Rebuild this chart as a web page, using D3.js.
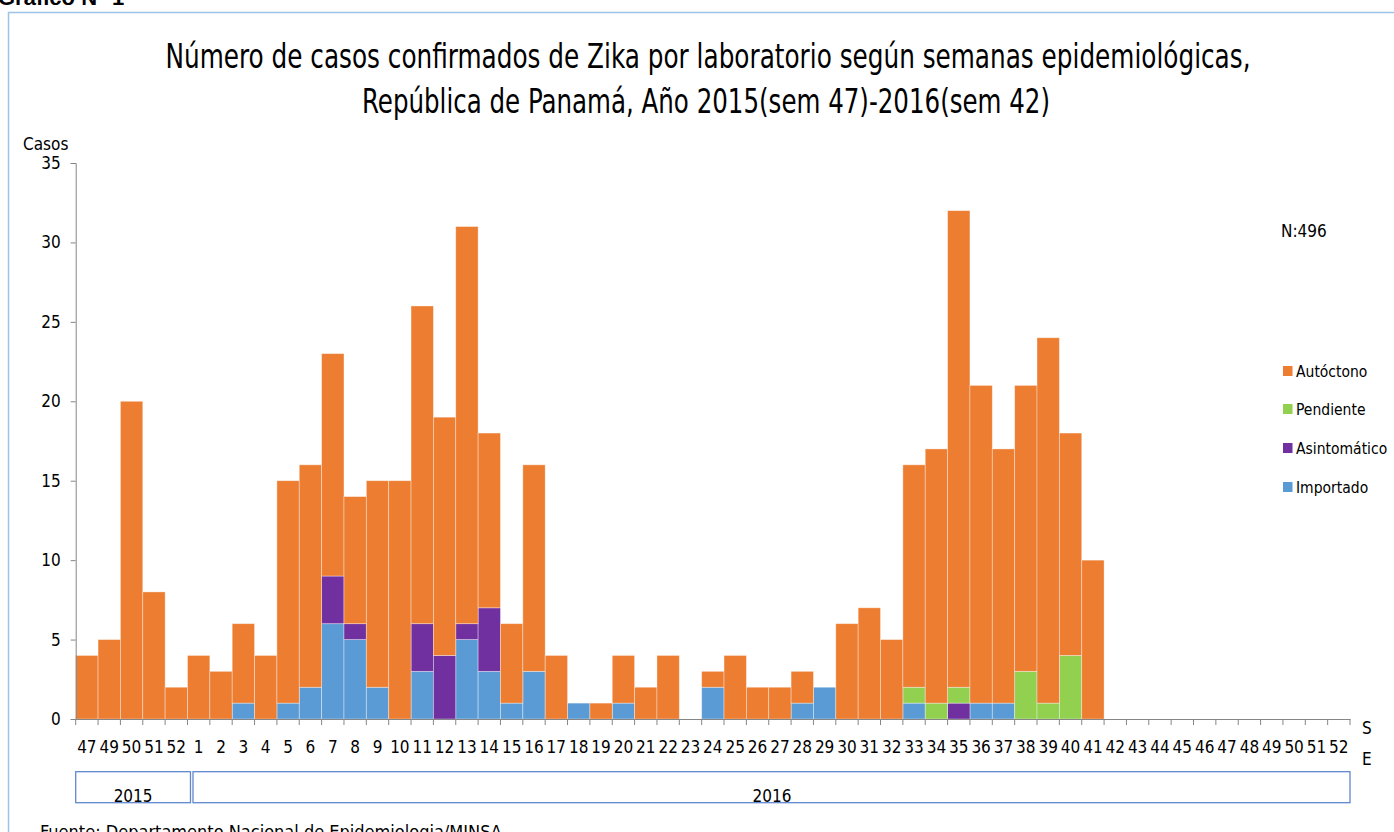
<!DOCTYPE html>
<html>
<head>
<meta charset="utf-8">
<script src="https://cdn.jsdelivr.net/npm/d3@7"></script>
<style>
  html, body { margin: 0; padding: 0; background: #fff; }
  svg { display: block; }
  text { font-family: "Liberation Sans Narrow", "DejaVu Sans Condensed", "Open Sans", sans-serif; fill: #000; }
</style>
</head>
<body>
<svg id="chart" width="1394" height="832"></svg>
<script>
// ---- Data ----
const weeks = ["47","49","50","51","52","1","2","3","4","5","6","7","8","9","10","11","12","13","14","15","16","17","18","19","20","21","22","23","24","25","26","27","28","29","30","31","32","33","34","35","36","37","38","39","40","41","42","43","44","45","46","47","48","49","50","51","52"];
const importado    = [0,0,0,0,0, 0,0,1,0,1,2,6,5,2,0, 3,0,5,3,1,3,0,1,0,1, 0,0,0,2,0,0,0,1,2,0, 0,0,1,0,0,1,1,0,0,0, 0,0,0,0,0,0,0,0,0,0,0,0];
const asintomatico = [0,0,0,0,0, 0,0,0,0,0,0,3,1,0,0, 3,4,1,4,0,0,0,0,0,0, 0,0,0,0,0,0,0,0,0,0, 0,0,0,0,1,0,0,0,0,0, 0,0,0,0,0,0,0,0,0,0,0,0];
const pendiente    = [0,0,0,0,0, 0,0,0,0,0,0,0,0,0,0, 0,0,0,0,0,0,0,0,0,0, 0,0,0,0,0,0,0,0,0,0, 0,0,1,1,1,0,0,3,1,4, 0,0,0,0,0,0,0,0,0,0,0,0];
const autoctono    = [4,5,20,8,2, 4,3,5,4,14,14,14,8,13,15, 20,15,25,11,5,13,4,0,1,3, 2,4,0,1,4,2,2,2,0,6, 7,5,14,16,30,20,16,18,23,14, 10,0,0,0,0,0,0,0,0,0,0,0];
const yTicks = [0,5,10,15,20,25,30,35];
const seriesNames = ["Importado","Asintomático","Pendiente","Autóctono"];
const seriesColors = ["#5B9BD5","#7030A0","#92D050","#ED7D31"];
const legendOrder = ["Autóctono","Pendiente","Asintomático","Importado"];
const years = [{label:"2015", from:0, to:4}, {label:"2016", from:5, to:56}];

// ---- Build table ----
const table = weeks.map((w,i) => ({
  idx: i,
  "Importado": importado[i],
  "Asintomático": asintomatico[i],
  "Pendiente": pendiente[i],
  "Autóctono": autoctono[i]
}));

const svg = d3.select("#chart");
const plotL = 75.7, plotR = 1350, plotT = 163, plotB = 719;

const x = d3.scaleBand().domain(d3.range(weeks.length)).range([plotL, plotR]).padding(0);
const y = d3.scaleLinear().domain([0,35]).range([plotB, plotT]);
const color = d3.scaleOrdinal().domain(seriesNames).range(seriesColors);

// outer border
svg.append("rect").attr("x",8.5).attr("y",12.5).attr("width",1400).attr("height",840)
  .attr("fill","none").attr("stroke","#9DC3E6").attr("stroke-width",1.5);

// cut-off heading
svg.append("text").attr("x",-2).attr("y",5).attr("font-size",22).attr("font-weight","bold")
  .style("font-family","'Liberation Sans', sans-serif").text("Gráfico N° 1");

// Title
svg.append("text").attr("x",708).attr("y",68).attr("text-anchor","middle").attr("font-size",34)
  .attr("textLength",1085).attr("lengthAdjust","spacingAndGlyphs")
  .text("Número de casos confirmados de Zika por laboratorio según semanas epidemiológicas,");
svg.append("text").attr("x",706).attr("y",113).attr("text-anchor","middle").attr("font-size",34)
  .attr("textLength",688).attr("lengthAdjust","spacingAndGlyphs")
  .text("República de Panamá, Año 2015(sem 47)-2016(sem 42)");

// Stacked bars
const stack = d3.stack().keys(seriesNames);
const stacked = stack(table);
svg.append("g").selectAll("g").data(stacked).join("g")
  .attr("fill", d => color(d.key))
  .selectAll("rect").data(d => d.filter(p => p[1] - p[0] > 0)).join("rect")
  .attr("x", d => x(d.data.idx))
  .attr("width", x.bandwidth())
  .attr("y", d => y(d[1]))
  .attr("height", d => y(d[0]) - y(d[1]))
  .attr("stroke","rgba(255,255,255,0.45)").attr("stroke-width",0.8);

// Y axis
const yAxis = d3.axisLeft(y).tickValues(yTicks).tickSize(5).tickPadding(10);
const gy = svg.append("g").attr("transform",`translate(${plotL},0)`).call(yAxis);
gy.select(".domain").attr("stroke","#868686");
gy.selectAll(".tick line").attr("stroke","#868686");
gy.selectAll(".tick text").attr("font-size",17).style("font-family","'Liberation Sans Narrow','DejaVu Sans Condensed',sans-serif").attr("fill","#000");

// X axis
const xAxis = d3.axisBottom(x).tickFormat(i => weeks[i]).tickSize(0).tickPadding(22);
const gx = svg.append("g").attr("transform",`translate(0,${plotB})`).call(xAxis);
gx.select(".domain").attr("stroke","#868686");
gx.selectAll(".tick text").attr("font-size",17).style("font-family","'Liberation Sans Narrow','DejaVu Sans Condensed',sans-serif").attr("fill","#000");
// boundary ticks
svg.append("g").selectAll("line").data(d3.range(weeks.length + 1)).join("line")
  .attr("x1", i => i < weeks.length ? x(i) : plotR).attr("x2", i => i < weeks.length ? x(i) : plotR)
  .attr("y1", plotB).attr("y2", plotB + 6).attr("stroke","#868686");

// S E
svg.append("text").attr("x",1362).attr("y",734).attr("font-size",17).text("S");
svg.append("text").attr("x",1362).attr("y",765).attr("font-size",17).text("E");

// Casos
svg.append("text").attr("x",23).attr("y",150).attr("font-size",17).text("Casos");

// N
svg.append("text").attr("x",1281).attr("y",237).attr("font-size",17).text("N:496");

// Year boxes
const yearG = svg.append("g");
years.forEach((yr, k) => {
  const x0 = x(yr.from) + (k === 0 ? 0 : 5.5);
  const x1 = yr.to === weeks.length - 1 ? plotR : x(yr.to) + x.bandwidth() + 3;
  yearG.append("rect").attr("x", x0).attr("y", 771.7).attr("width", x1 - x0).attr("height", 31)
    .attr("fill","none").attr("stroke","#4472C4").attr("stroke-width",1.3).attr("stroke-opacity",0.85);
  yearG.append("text").attr("x", k === 0 ? (x0 + x1)/2 : 772).attr("y", 802).attr("text-anchor","middle")
    .attr("font-size",17).text(yr.label);
});

// Legend
const legendY = [371, 409, 448, 487];
const lg = svg.append("g");
legendOrder.forEach((name, i) => {
  lg.append("rect").attr("x",1283).attr("y",legendY[i]-5).attr("width",9.5).attr("height",10).attr("fill",color(name));
  lg.append("text").attr("x",1296).attr("y",legendY[i]+6).attr("font-size",15.5).text(name);
});

// Footer
svg.append("text").attr("x",40).attr("y",838).attr("font-size",18).text("Fuente: Departamento Nacional de Epidemiologia/MINSA");
</script>
</body>
</html>
